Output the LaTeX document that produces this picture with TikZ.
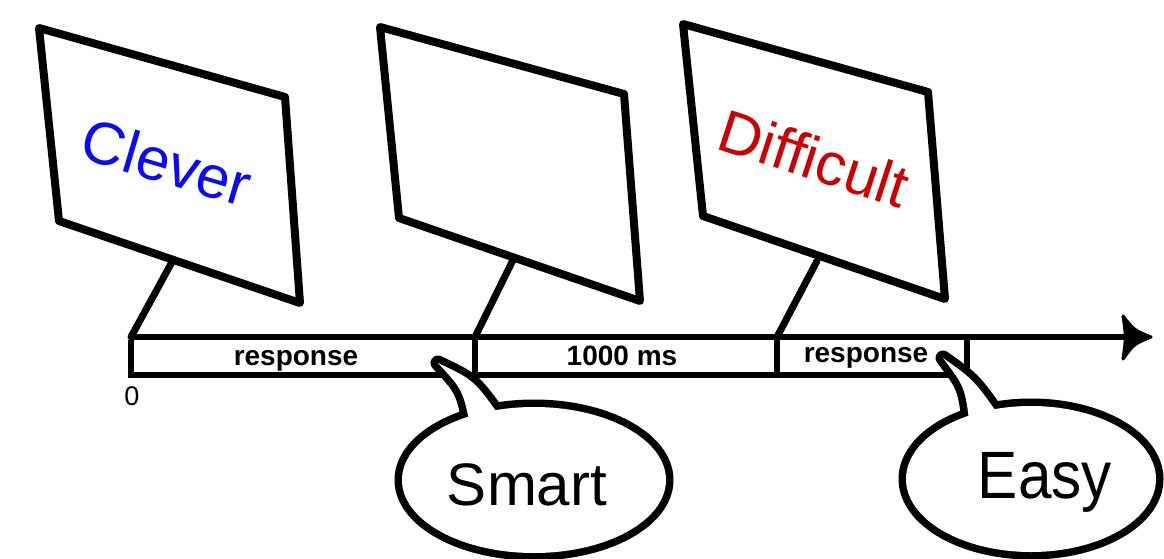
\documentclass[tikz,border=0pt]{standalone}
\usepackage{fontspec}
\setmainfont{Liberation Sans}
\definecolor{cblue}{RGB}{10,10,245}
\definecolor{cred}{RGB}{205,0,0}
\begin{document}
\begin{tikzpicture}[x=1pt,y=-1pt,
  screen/.style={draw=black,fill=white,line width=8pt,line join=round},
  stand/.style={draw=black,line width=7pt,line cap=round},
  tline/.style={draw=black,line width=6.5pt},
  sepline/.style={draw=black,line width=5.5pt},
  lbl/.style={font=\bfseries\fontsize{28}{30}\selectfont,anchor=base,inner sep=0pt},
  word/.style={font=\fontsize{60}{66}\selectfont,inner sep=0pt},
  bubbleline/.style={draw=black,line width=15pt,line join=round},
  bubblefill/.style={fill=white}]
\useasboundingbox (0,0) rectangle (1164,559);

% timeline coordinates
\coordinate (t0) at (131,337);
\coordinate (t1) at (475,337);
\coordinate (t2) at (777,337);
\coordinate (t3) at (967,337);
\coordinate (tend) at (1128,337);
\coordinate (b0) at (131,375);
\coordinate (b1) at (475,375);
\coordinate (b2) at (777,375);
\coordinate (b3) at (967,375);

% screens
\coordinate (s1a) at (39,28);  \coordinate (s1b) at (285,97);
\coordinate (s1c) at (300,303); \coordinate (s1d) at (59,221);
\coordinate (s1s) at (172,262);
\coordinate (s2a) at (380,27);  \coordinate (s2b) at (624,94);
\coordinate (s2c) at (640,301); \coordinate (s2d) at (399,218);
\coordinate (s2s) at (513,260);
\coordinate (s3a) at (683,24);  \coordinate (s3b) at (928,92);
\coordinate (s3c) at (945,299); \coordinate (s3d) at (703,216);
\coordinate (s3s) at (817,261);

\draw[stand] (s1s) -- (t0);
\draw[stand] (s2s) -- (t1);
\draw[stand] (s3s) -- (t2);

\draw[screen] (s1a) -- (s1b) -- (s1c) -- (s1d) -- cycle;
\draw[screen] (s2a) -- (s2b) -- (s2c) -- (s2d) -- cycle;
\draw[screen] (s3a) -- (s3b) -- (s3c) -- (s3d) -- cycle;

\node[word,text=cblue,rotate=-16.5] (clever) at (167,162) {Clever};
\node[word,text=cred,rotate=-18] (difficult) at (814,158) {Difficult};

% timeline
\draw[tline] (t0) -- (tend);
\draw[tline,line join=miter] ([yshift=-3pt]t0) -- (b0) -- (b3) -- ([yshift=-3pt]t3);
\draw[sepline] (t1) -- (b1);
\draw[sepline] (t2) -- ([yshift=2pt]b2);
\fill[black,draw=black,line width=3pt,line join=round] (1123,316) .. controls (1134,330) .. (1151,337) .. controls (1134,344) .. (1123,359) .. controls (1126,337) .. (1123,316) -- cycle;

\node[lbl] (r1) at (296,365) {response};
\node[lbl] (ms) at (622,365) {1000 ms};
\node[lbl] (r2) at (866,362) {response};
\node[font=\fontsize{27}{29}\selectfont,inner sep=0pt] (zero) at (132,396) {0};

% bubble Smart
\coordinate (smc) at (534,480);
\coordinate (smtip) at (438,363);
\coordinate (smL) at (471,430);
\coordinate (smR) at (503,421);
\draw[bubbleline] (smc) ellipse [x radius=132, y radius=73];
\draw[bubbleline] (smL) .. controls (463,390) .. (smtip) .. controls (474,380) .. (smR);
\fill[white] (smc) ellipse [x radius=132, y radius=73];
\fill[white] (smL) .. controls (463,390) .. (smtip) .. controls (474,380) .. (smR) -- cycle;
\node[word,anchor=base] (smart) at (527,505) {Smart};

% bubble Easy
\coordinate (ezc) at (1031,479);
\coordinate (eztip) at (943,358);
\coordinate (ezL) at (970,428);
\coordinate (ezR) at (1002,420);
\draw[bubbleline] (ezc) ellipse [x radius=125, y radius=73];
\draw[bubbleline] (ezL) .. controls (965,387) .. (eztip) .. controls (974,380) .. (ezR);
\fill[white] (ezc) ellipse [x radius=125, y radius=73];
\fill[white] (ezL) .. controls (965,387) .. (eztip) .. controls (974,380) .. (ezR) -- cycle;
\node[word,anchor=base,font=\fontsize{67}{70}\selectfont] (easy) at (1045,498) {\scalebox{0.9}[1]{Easy}};
\end{tikzpicture}
\end{document}
